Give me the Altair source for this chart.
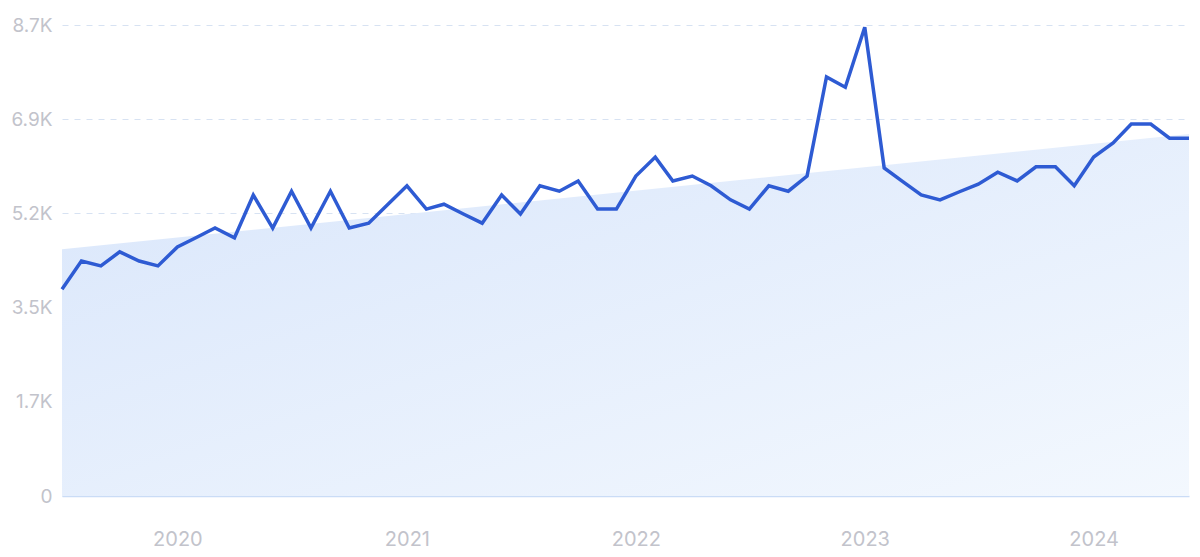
import altair as alt
import pandas as pd

# Monthly values, Jul 2019 .. Jun 2024
months = pd.date_range("2019-07-01", "2024-06-01", freq="MS").strftime("%Y-%m-%d").tolist()
values = [
    3820, 4340, 4250, 4510, 4340, 4250, 4600, 4780, 4950, 4770, 5560, 4950,
    5630, 4950, 5630, 4950, 5040, 5380, 5730, 5300, 5390, 5210, 5040, 5560,
    5210, 5730, 5630, 5820, 5300, 5300, 5910, 6260, 5820, 5910, 5730, 5470,
    5300, 5730, 5630, 5910, 7740, 7550, 8660, 6060, 5820, 5560, 5470, 5620,
    5760, 5980, 5820, 6080, 6080, 5730, 6260, 6520, 6870, 6870, 6610, 6610,
]
y_ticks = [0, 1740, 3480, 5220, 6960, 8700]
y_labels = ["0", "1.7K", "3.5K", "5.2K", "6.9K", "8.7K"]
x_ticks = ["2020-01-01", "2021-01-01", "2022-01-01", "2023-01-01", "2024-01-01"]

df = pd.DataFrame({"date": months, "v": values})

vals_js = "[" + ",".join(str(v) for v in y_ticks) + "]"
labs_js = "[" + ",".join("'" + s + "'" for s in y_labels) + "]"
label_expr = f"{labs_js}[indexof({vals_js}, datum.value)]"

x_scale = alt.Scale(domain=[months[0], months[-1]], nice=False, padding=0)
y_scale = alt.Scale(domain=[0, 8700], nice=False)

x_axis = alt.Axis(
    values=[pd.Timestamp(d).value // 10**6 for d in x_ticks],
    format="%Y", title=None, grid=False, ticks=False, tickSize=0,
    domain=True, domainColor="#cadcf6", domainWidth=1.5,
    labelFont="Inter", labelFontSize=20, labelColor="#c2c3cb",
    labelPadding=33,
)
y_axis = alt.Axis(
    values=y_ticks, labelExpr=label_expr, title=None,
    grid=True, gridColor="#d7e2f2", gridDash=[6, 6], gridWidth=1,
    domain=False, ticks=False, tickSize=0,
    labelFont="Inter", labelFontSize=19, labelColor="#c2c3cb",
    labelPadding=10,
)

base = alt.Chart(df)

area = base.transform_regression("date", "v", method="linear").mark_area(
    color=alt.Gradient(
        gradient="linear",
        stops=[alt.GradientStop(color="#d9e6fb", offset=0),
               alt.GradientStop(color="#f3f8fe", offset=1)],
        x1=0, x2=1, y1=0, y2=1,
    ),
    opacity=1,
).encode(
    x=alt.X("date:T", scale=x_scale, axis=x_axis),
    y=alt.Y("v:Q", scale=y_scale, axis=y_axis),
)

line = base.mark_line(color="#2e5bd3", strokeWidth=3.5, strokeJoin="miter").encode(
    x=alt.X("date:T", scale=x_scale),
    y=alt.Y("v:Q", scale=y_scale),
)

chart = alt.layer(area, line).properties(
    width=1127, height=471,
    autosize=alt.AutoSizeParams(type="none"),
    padding={"left": 54, "top": 17, "right": 3, "bottom": 53},
).configure_view(stroke=None)

chart.save("out.html", embed_options={"renderer": "svg", "actions": False})
